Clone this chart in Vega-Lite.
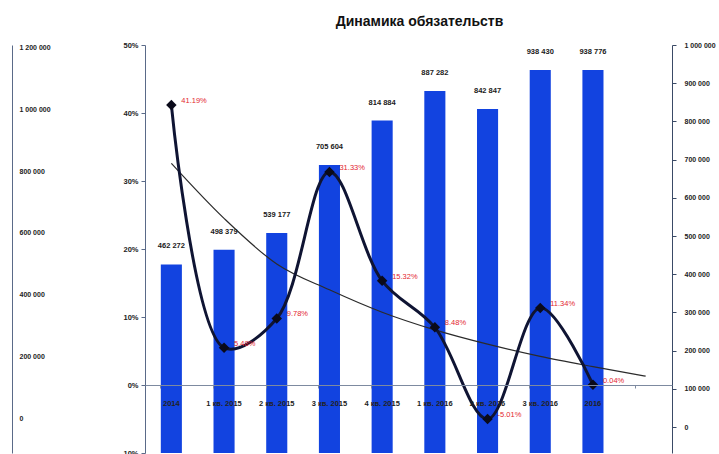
{
  "$schema": "https://vega.github.io/schema/vega-lite/v6.json",
  "width": 527,
  "height": 408,
  "padding": {"left": 12, "top": 15, "right": 0, "bottom": 0},
  "background": "white",
  "title": {"text": "Динамика обязательств", "font": "Liberation Sans", "fontSize": 14, "fontWeight": "bold", "color": "#111111", "frame": "group", "dx": 11, "offset": 12},
  "datasets": {
    "bars": [
      {"cat": "2014", "value": 462272},
      {"cat": "1 кв. 2015", "value": 498379},
      {"cat": "2 кв. 2015", "value": 539177},
      {"cat": "3 кв. 2015", "value": 705604},
      {"cat": "4 кв. 2015", "value": 814884},
      {"cat": "1 кв. 2016", "value": 887282},
      {"cat": "2 кв. 2016", "value": 842847},
      {"cat": "3 кв. 2016", "value": 938430},
      {"cat": "2016", "value": 938776}
    ],
    "pct": [
      {"cat": "2014", "pct": 0.4119},
      {"cat": "1 кв. 2015", "pct": 0.0548},
      {"cat": "2 кв. 2015", "pct": 0.0978},
      {"cat": "3 кв. 2015", "pct": 0.3133},
      {"cat": "4 кв. 2015", "pct": 0.1532},
      {"cat": "1 кв. 2016", "pct": 0.0848},
      {"cat": "2 кв. 2016", "pct": -0.0501},
      {"cat": "3 кв. 2016", "pct": 0.1134},
      {"cat": "2016", "pct": 0.0004}
    ],
    "trend": [
      {"cat": "2014", "trend": 0.326},
      {"cat": "1 кв. 2015", "trend": 0.245},
      {"cat": "2 кв. 2015", "trend": 0.178},
      {"cat": "3 кв. 2015", "trend": 0.140},
      {"cat": "4 кв. 2015", "trend": 0.107},
      {"cat": "1 кв. 2016", "trend": 0.081},
      {"cat": "2 кв. 2016", "trend": 0.060},
      {"cat": "3 кв. 2016", "trend": 0.042},
      {"cat": "2016", "trend": 0.027},
      {"cat": " ", "trend": 0.013}
    ]
  },
  "encoding": {
    "x": {
      "field": "cat",
      "type": "nominal",
      "sort": null,
      "scale": {
        "domain": ["2014", "1 кв. 2015", "2 кв. 2015", "3 кв. 2015", "4 кв. 2015", "1 кв. 2016", "2 кв. 2016", "3 кв. 2016", "2016", " "],
        "paddingInner": 0.6,
        "paddingOuter": 0.3
      },
      "axis": {
        "orient": "bottom",
        "offset": -68,
        "title": null,
        "labelAngle": 0,
        "labelPadding": 11,
        "tickSize": 3,
        "bandPosition": 0,
        "domainColor": "#7d8aa0",
        "tickColor": "#7d8aa0",
        "zindex": 1
      }
    }
  },
  "layer": [
    {
      "data": {"name": "bars"},
      "mark": {"type": "bar", "color": "#1243e0"},
      "encoding": {
        "y": {"field": "value", "type": "quantitative", "scale": {"domain": [0, 1000000], "nice": false}, "axis": null}
      }
    },
    {
      "data": {"name": "bars"},
      "mark": {"type": "text", "dy": -18, "baseline": "middle", "font": "Liberation Sans", "fontSize": 7.5, "fontWeight": "bold", "color": "#1a1a1a"},
      "encoding": {
        "y": {"field": "value", "type": "quantitative", "scale": {"domain": [0, 1000000], "nice": false}, "axis": null},
        "text": {"field": "value", "type": "quantitative", "format": ",d"}
      }
    },
    {
      "data": {"name": "bars"},
      "mark": {"type": "point", "opacity": 0},
      "encoding": {
        "y": {
          "field": "value", "type": "quantitative",
          "scale": {"domain": [-113500, 1209700], "nice": false, "zero": false},
          "axis": {"orient": "left", "offset": 133, "values": [0, 200000, 400000, 600000, 800000, 1000000, 1200000], "format": ",d", "title": null, "grid": false, "ticks": false, "tickSize": 0, "labelAlign": "left", "labelPadding": -7, "labelFontSize": 7, "domainColor": "#5a6a88"}
        }
      }
    },
    {
      "data": {"name": "bars"},
      "mark": {"type": "point", "opacity": 0},
      "encoding": {
        "y": {
          "field": "value", "type": "quantitative",
          "scale": {"domain": [-68000, 1000000], "nice": false, "zero": false},
          "axis": {"orient": "right", "values": [0, 100000, 200000, 300000, 400000, 500000, 600000, 700000, 800000, 900000, 1000000], "format": ",d", "title": null, "grid": false, "tickSize": 4, "labelPadding": 8, "labelFontSize": 7, "domainColor": "#3a4a66", "tickColor": "#3a4a66"}
        }
      }
    },
    {
      "data": {"name": "trend"},
      "mark": {"type": "line", "interpolate": "monotone", "color": "#2b2b2b", "strokeWidth": 1.2},
      "encoding": {
        "y": {
          "field": "trend", "type": "quantitative",
          "scale": {"domain": [-0.1, 0.5], "nice": false, "zero": false},
          "axis": {"orient": "left", "values": [-0.1, 0, 0.1, 0.2, 0.3, 0.4, 0.5], "format": ".0%", "title": null, "grid": false, "tickSize": 4, "labelPadding": 3, "domainColor": "#5a6a88", "tickColor": "#5a6a88"}
        }
      }
    },
    {
      "data": {"name": "pct"},
      "mark": {"type": "line", "interpolate": "catmull-rom", "color": "#0f1433", "strokeWidth": 3},
      "encoding": {
        "y": {"field": "pct", "type": "quantitative", "scale": {"domain": [-0.1, 0.5], "nice": false, "zero": false}, "axis": null}
      }
    },
    {
      "data": {"name": "pct"},
      "mark": {"type": "point", "shape": "diamond", "filled": true, "size": 110, "color": "#0a0a1a", "opacity": 1},
      "encoding": {
        "y": {"field": "pct", "type": "quantitative", "scale": {"domain": [-0.1, 0.5], "nice": false, "zero": false}, "axis": null}
      }
    },
    {
      "data": {"name": "pct"},
      "mark": {"type": "text", "align": "left", "baseline": "middle", "dx": 10, "dy": -4, "font": "Liberation Sans", "fontSize": 7.5, "color": "#e3262f"},
      "encoding": {
        "y": {"field": "pct", "type": "quantitative", "scale": {"domain": [-0.1, 0.5], "nice": false, "zero": false}, "axis": null},
        "text": {"field": "pct", "type": "quantitative", "format": ".2%"}
      }
    }
  ],
  "resolve": {"scale": {"y": "independent"}},
  "config": {
    "view": {"stroke": null},
    "axis": {"labelFont": "Liberation Sans", "labelFontSize": 7.5, "labelFontWeight": "bold", "labelColor": "#222222", "domainColor": "#6f7f99", "tickColor": "#6f7f99"},
    "locale": {"number": {"decimal": ".", "thousands": " ", "grouping": [3], "currency": ["", ""], "minus": "-"}}
  }
}
